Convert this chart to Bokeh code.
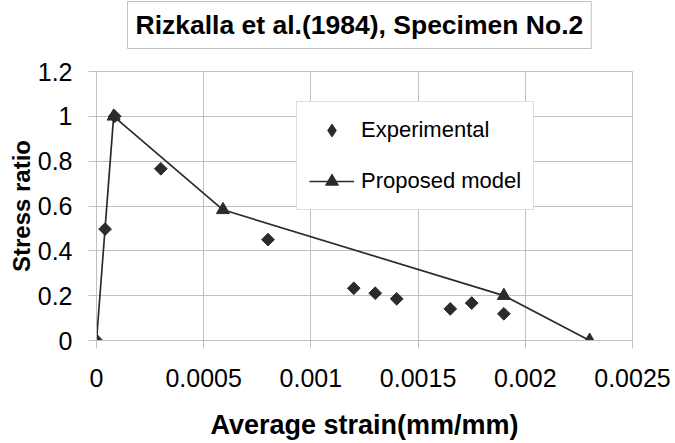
from bokeh.plotting import figure
from bokeh.models import Legend, LegendItem, Range1d, FixedTicker, Title
from bokeh.embed import file_html
from bokeh.resources import INLINE
import math

title_text = "Rizkalla et al.(1984), Specimen No.2"
x_label = "Average strain(mm/mm)"
y_label = "Stress ratio"

exp_strain = [0.0, 0.00004, 0.000085, 0.0003, 0.0008, 0.0012, 0.0013, 0.0014, 0.00165, 0.00175, 0.0019]
exp_stress = [0.0, 0.497, 1.0, 0.766, 0.45, 0.233, 0.211, 0.186, 0.141, 0.167, 0.119]

model_strain = [0.0, 0.00008, 0.00059, 0.0019, 0.0023]
model_stress = [0.0, 1.0, 0.583, 0.2, 0.0]

x_ticks = [0, 0.0005, 0.001, 0.0015, 0.002, 0.0025]
x_tick_labels = ["0", "0.0005", "0.001", "0.0015", "0.002", "0.0025"]
y_ticks = [0, 0.2, 0.4, 0.6, 0.8, 1.0, 1.2]
y_tick_labels = ["0", "0.2", "0.4", "0.6", "0.8", "1", "1.2"]

FONT = "Liberation Sans"
DARK = "#2b2b2b"
GRID = "#c0c0c0"

p = figure(width=675, height=443, output_backend="svg", toolbar_location=None,
           x_range=Range1d(0, 0.0025), y_range=Range1d(0, 1.2),
           min_border_left=96, min_border_right=43, min_border_top=71, min_border_bottom=103)
p.background_fill_color = "white"
p.border_fill_color = "white"
p.outline_line_color = GRID
p.outline_line_width = 1

# spacer between the title box and the plot area
spacer = Title(text=" ", text_font_size="1px", standoff=18)
p.add_layout(spacer, "above")
title = Title(text=title_text, align="left", offset=31, standoff=0, vertical_align="top",
              text_font=FONT, text_font_size="26.5px", text_font_style="bold",
              text_color="black", border_line_color=GRID, border_line_width=1,
              background_fill_color="white",
              padding=dict(left=8, right=8, top=8, bottom=9))
p.add_layout(title, "above")

# axes
p.xaxis.ticker = FixedTicker(ticks=x_ticks)
p.yaxis.ticker = FixedTicker(ticks=y_ticks)
p.xaxis.major_label_overrides = {t: l for t, l in zip(x_ticks, x_tick_labels)}
p.yaxis.major_label_overrides = {t: l for t, l in zip(y_ticks, y_tick_labels)}
for ax in (p.xaxis[0], p.yaxis[0]):
    ax.axis_line_color = GRID
    ax.major_tick_line_color = GRID
    ax.major_tick_in = 0
    ax.major_tick_out = 8
    ax.minor_tick_line_color = None
    ax.major_label_text_font = FONT
    ax.major_label_text_font_size = "25px"
    ax.major_label_text_color = "black"
    ax.axis_label_text_font = FONT
    ax.axis_label_text_font_style = "bold"
    ax.axis_label_text_color = "black"
p.xaxis.axis_label = x_label
p.yaxis.axis_label = y_label
p.xaxis.axis_label_text_font_size = "27px"
p.yaxis.axis_label_text_font_size = "24px"
p.xaxis.major_label_standoff = 20
p.xaxis.axis_label_standoff = 20
p.yaxis.major_label_standoff = 16
p.yaxis.axis_label_standoff = 0
p.yaxis.major_label_orientation = "horizontal"

p.xgrid.grid_line_color = GRID
p.ygrid.grid_line_color = GRID
p.xgrid.grid_line_width = 1
p.ygrid.grid_line_width = 1

# model line + triangles
model_line = p.line(model_strain, model_stress, line_color=DARK, line_width=1.7)
model_pts = p.scatter(model_strain, model_stress, marker="triangle", size=13,
                      fill_color=DARK, line_color=DARK)
# small diamonds under the data markers, used as the legend glyph
exp_legend_glyph = p.scatter(exp_strain, exp_stress, marker="diamond", size=4,
                             fill_color=DARK, line_color=DARK)
# experimental diamonds (rotated squares)
exp_pts = p.scatter(exp_strain, exp_stress, marker="square", angle=math.pi / 4, size=9,
                    fill_color=DARK, line_color=DARK)

legend = Legend(items=[LegendItem(label="Experimental", renderers=[exp_legend_glyph]),
                       LegendItem(label="Proposed model", renderers=[model_line, model_pts])],
                location=(200, 130), orientation="vertical",
                glyph_width=45, glyph_height=32, spacing=19, padding=12,
                label_standoff=7, label_text_font=FONT, label_text_font_size="22px",
                label_text_color="black", border_line_color=GRID, border_line_width=1,
                background_fill_color="white", background_fill_alpha=1,
                margin=0)
p.add_layout(legend, "center")

open("out.html", "w").write(file_html(p, INLINE))
